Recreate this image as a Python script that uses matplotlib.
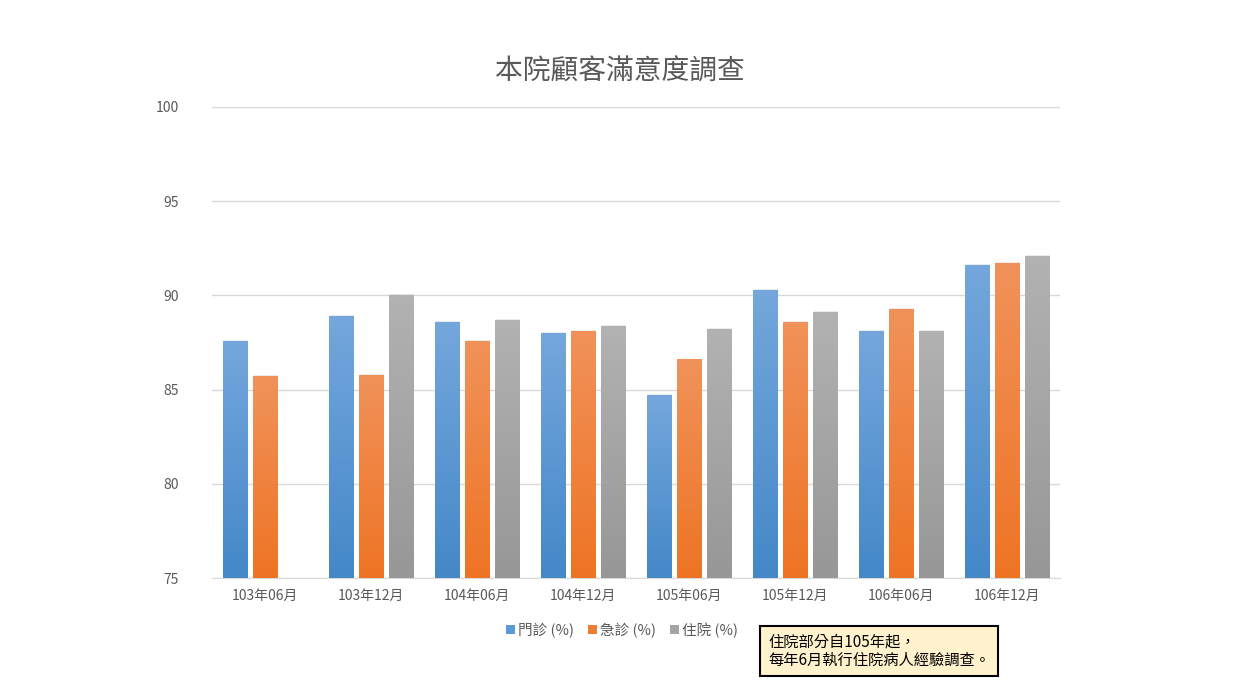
import numpy as np
import matplotlib
matplotlib.use("Agg")
import matplotlib.pyplot as plt
from matplotlib.colors import LinearSegmentedColormap
from matplotlib.patches import Rectangle

plt.rcParams['font.family'] = ['Noto Sans CJK TC', 'DejaVu Sans']

categories = ["103年06月", "103年12月", "104年06月", "104年12月",
              "105年06月", "105年12月", "106年06月", "106年12月"]
outpatient = [87.6, 88.9, 88.6, 88.0, 84.7, 90.3, 88.1, 91.6]
emergency = [85.7, 85.8, 87.6, 88.1, 86.6, 88.6, 89.3, 91.7]
inpatient = [np.nan, 90.0, 88.7, 88.4, 88.2, 89.1, 88.1, 92.1]
series_names = ["門診 (%)", "急診 (%)", "住院 (%)"]
yticks = [75, 80, 85, 90, 95, 100]

colors_top = ["#74a7dc", "#f1925a", "#b2b2b2"]
colors_bot = ["#4488c8", "#ee7424", "#979797"]
legend_colors = ["#5b9bd5", "#ed7d31", "#a5a5a5"]

fig = plt.figure(figsize=(12.4, 6.96), dpi=100)
ax = fig.add_axes([212/1240, 1-578/696, (1060-212)/1240, (578-107)/696])

x = np.arange(len(categories))
bw = 0.227
step = 0.283
ymin, ymax = 75, 100
for i, vals in enumerate([outpatient, emergency, inpatient]):
    cmap = LinearSegmentedColormap.from_list(f"g{i}", [colors_bot[i], colors_top[i]])
    grad = np.linspace(0, 1, 256).reshape(-1, 1)
    for xi, v in zip(x, vals):
        if np.isnan(v):
            continue
        left = xi + (i - 1) * step - bw / 2
        sh = Rectangle((left + 0.012, ymin), bw, v - ymin + 0.05, facecolor="#000000",
                       alpha=0.08, edgecolor="none", zorder=2)
        ax.add_patch(sh)
        rect = Rectangle((left, ymin), bw, v - ymin, facecolor=legend_colors[i],
                         edgecolor="none", zorder=3)
        ax.add_patch(rect)
        im = ax.imshow(grad, cmap=cmap, aspect="auto", origin="lower",
                       extent=(left, left + bw, ymin, v), zorder=3.5)
        im.set_clip_path(rect)

ax.set_xlim(-0.5, len(categories) - 0.5)
ax.set_ylim(ymin, ymax)
ax.set_yticks(yticks)
ax.set_xticks(x)
ax.set_xticklabels(categories)
ax.tick_params(axis="both", length=0, labelsize=10, labelcolor="#595959")
ax.tick_params(axis="y", pad=24)
ax.tick_params(axis="x", pad=8)
ax.yaxis.grid(True, color="#d9d9d9", linewidth=1)
ax.set_axisbelow(True)
for s in ["top", "right", "left"]:
    ax.spines[s].set_visible(False)
ax.spines["bottom"].set_color("#d9d9d9")

fig.text(620/1240, 1-72/696, "本院顧客滿意度調查", ha="center", va="center",
         fontsize=20, color="#595959")

handles = [Rectangle((0, 0), 1, 1, facecolor=c, edgecolor="none") for c in legend_colors]
fig.legend(handles, series_names, loc="center", bbox_to_anchor=(622/1240, 1-630/696),
           ncol=3, frameon=False, fontsize=10.5, labelcolor="#595959",
           handlelength=0.6, handleheight=0.6, handletextpad=0.2, columnspacing=1.0)

fig.text(768/1240, 1-651/696, "住院部分自105年起，\n每年6月執行住院病人經驗調查。",
         ha="left", va="center", fontsize=11, color="#000000", linespacing=1.05,
         bbox=dict(boxstyle="square,pad=0.5", facecolor="#fff2cc", edgecolor="#000000",
                   linewidth=1.5))

fig.savefig("out.png", dpi=100)
